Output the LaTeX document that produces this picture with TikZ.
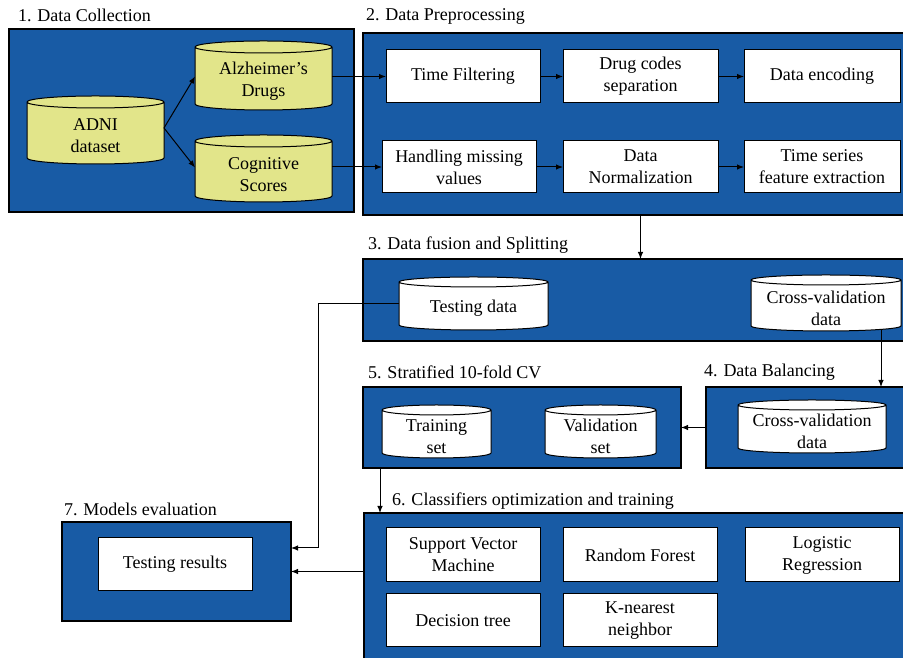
\documentclass[tikz,border=0pt]{standalone}
\usepackage{fontspec}
\setmainfont{Liberation Serif}
\usetikzlibrary{arrows.meta,calc}
\definecolor{boxblue}{RGB}{24,91,165}
\definecolor{cylyellow}{RGB}{226,229,138}
\pgfdeclarelayer{back}
\pgfdeclarelayer{mid}
\pgfsetlayers{back,mid,main}
\newcommand\cylbody[3]{%
  \path[draw=black, line width=1pt, fill=#2] let \p1=(#1.north west), \p2=(#1.south east), \n1={(\x2-\x1)/2} in
   (\x1,{\y1+#3pt}) -- (\x1,{\y2+#3pt}) arc[start angle=180, end angle=360, x radius=\n1, y radius=#3pt]
   -- (\x2,{\y1+#3pt}) arc[start angle=0, end angle=180, x radius=\n1, y radius=#3pt] -- cycle
   (\x1,{\y1+#3pt}) arc[start angle=180, end angle=360, x radius=\n1, y radius=#3pt];
}
\begin{document}
\begin{tikzpicture}[x=1pt,y=1pt,
  every node/.style={font=\fontsize{18}{22}\selectfont, inner sep=0pt, outer sep=0pt},
  cont/.style={draw=black, line width=1.2pt, fill=boxblue, anchor=north west},
  wbox/.style={draw=black, line width=1pt, fill=white, anchor=north west, align=center},
  cyltext/.style={anchor=north west, align=center},
  title/.style={anchor=west},
  arr/.style={-{Latex[length=7pt,width=5.5pt]}, line width=1pt}]
\useasboundingbox (0,0) rectangle (903,658);
% containers
\begin{pgfonlayer}{back}
\fill[white] (0,0) rectangle (903,658);
\node[cont, minimum width=345, minimum height=183] (c1) at (9,629) {};
\node[cont, minimum width=545, minimum height=182] (c2) at (363,625) {};
\node[cont, minimum width=545, minimum height=82] (c3) at (363,399) {};
\node[cont, minimum width=202, minimum height=81] (c4) at (706,271) {};
\node[cont, minimum width=318, minimum height=81] (c5) at (363,271) {};
\node[cont, minimum width=544, minimum height=170] (c6) at (364,145) {};
\node[cont, minimum width=229, minimum height=99] (c7) at (62,136) {};
\end{pgfonlayer}
% titles
\node[title] (t1) at (18,643) {1. Data Collection};
\node[title] (t2) at (366,642) {2. Data Preprocessing};
\node[title] (t3) at (368,413) {3. Data fusion and Splitting};
\node[title] (t4) at (704,286) {4. Data Balancing};
\node[title] (t5) at (368,286) {5. Stratified 10-fold CV};
\node[title] (t6) at (392,157) {6. Classifiers optimization and training};
\node[title] (t7) at (64,149) {7. Models evaluation};
% cylinders
\node[cyltext, minimum width=137, minimum height=56] (adni) at (27,550) {ADNI\\dataset};
\node[cyltext, minimum width=137, minimum height=57] (ad) at (195,605) {Alzheimer’s\\Drugs};
\node[cyltext, minimum width=137, minimum height=55] (cs) at (195,511) {Cognitive\\Scores};
\node[cyltext, minimum width=149, minimum height=43] (td) at (399,371) {Testing data};
\node[cyltext, minimum width=150, minimum height=46] (cv1) at (751,373) {Cross-validation\\data};
\node[cyltext, minimum width=109, minimum height=43] (trs) at (382,243) {Training\\set};
\node[cyltext, minimum width=111, minimum height=43] (vs) at (545,243) {Validation\\set};
\node[cyltext, minimum width=148, minimum height=43] (cv2) at (738,248) {Cross-validation\\data};
\begin{pgfonlayer}{mid}
\cylbody{adni}{cylyellow}{6}
\cylbody{ad}{cylyellow}{6}
\cylbody{cs}{cylyellow}{6}
\cylbody{td}{white}{5}
\cylbody{cv1}{white}{5}
\cylbody{trs}{white}{5}
\cylbody{vs}{white}{5}
\cylbody{cv2}{white}{5}
\end{pgfonlayer}
% white boxes
\node[wbox, minimum width=154, minimum height=53] (tf) at (386,608) {Time Filtering};
\node[wbox, minimum width=155, minimum height=53] (dc) at (563,608) {Drug codes\\separation};
\node[wbox, minimum width=156, minimum height=53] (de) at (744,608) {Data encoding};
\node[wbox, minimum width=154, minimum height=52] (hm) at (382,517) {Handling missing\\values};
\node[wbox, minimum width=155, minimum height=52] (dn) at (563,517) {Data\\Normalization};
\node[wbox, minimum width=156, minimum height=52] (ts) at (744,517) {Time series\\feature extraction};
\node[wbox, minimum width=154, minimum height=53] (tr) at (98,120) {Testing results};
\node[wbox, minimum width=154, minimum height=54] (svm) at (386,130) {Support Vector\\Machine};
\node[wbox, minimum width=154, minimum height=54] (rf) at (563,130) {Random Forest};
\node[wbox, minimum width=154, minimum height=54] (lr) at (745,130) {Logistic\\Regression};
\node[wbox, minimum width=154, minimum height=53] (dt) at (386,64) {Decision tree};
\node[wbox, minimum width=154, minimum height=53] (knn) at (563,64) {K-nearest\\neighbor};
% connectors
\coordinate (adniout) at ($(adni.east)+(0,8)$);
\draw[arr] (adniout) -- ($(ad.west)+(0,5)$);
\draw[arr] (adniout) -- ($(cs.west)+(0,7)$);
\draw[arr] (tf.west -| ad.east) -- (tf.west);
\draw[arr] (hm.west -| cs.east) -- (hm.west);
\draw[arr] (tf) -- (dc);
\draw[arr] (dc) -- (de);
\draw[arr] (hm) -- (dn);
\draw[arr] (dn) -- (ts);
\draw[arr] (dn.south |- c2.south) -- (dn.south |- c3.north);
\coordinate (tdout) at ($(td.west)+(0,5)$);
\coordinate (tdbend) at (318,355);
\draw[arr] (tdout) -- (tdout -| tdbend) |- ($(c7.east)+(0,23.5)$);
\coordinate (cvout) at ($(cv1.south east)+(-20,2)$);
\draw[arr] (cvout) -- (cvout |- c4.north);
\draw[arr] (c4.west) -- (c5.east);
\coordinate (c5out) at ($(c5.south west)+(17,0)$);
\draw[arr] (c5out) -- (c5out |- c6.north);
\draw[arr] (c7.east -| c6.west) -- (c7.east);
\end{tikzpicture}
\end{document}
